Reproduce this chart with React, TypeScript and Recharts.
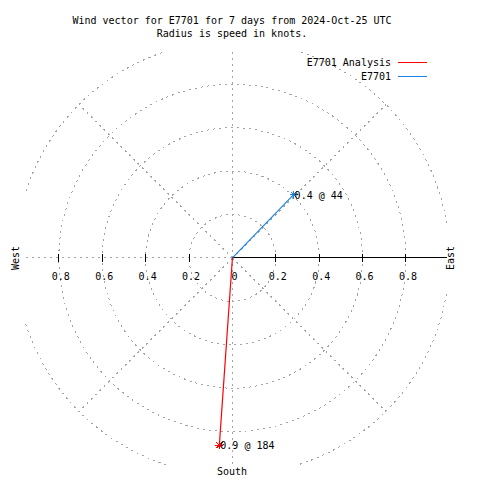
import React from "react";
import {
    ScatterChart,
    Scatter,
    XAxis,
    YAxis,
    ReferenceArea,
    ReferenceLine,
    ReferenceDot,
} from "recharts";

// series: wind speed (knots) and direction (degrees, clockwise from north)
const seriesNames = ["E7701 Analysis", "E7701"];
const speeds = [0.865, 0.406];
const directions = [184, 44];
const seriesColors = ["#ff0000", "#1e82e6"];

// polar grid
const ringRadii = [0.2, 0.4, 0.6, 0.8, 1.0];
const spokeAngles = [0, 45, 135, 180, 225, 270, 315];
const tickValues = [-0.8, -0.6, -0.4, -0.2, 0, 0.2, 0.4, 0.6, 0.8];

const titleLines = [
    "Wind vector for E7701 for 7 days from 2024-Oct-25 UTC",
    "Radius is speed in knots.",
];

const FONT = "'DejaVu Sans Mono', monospace";
const GRID = "#a4a4a4";
const DASH = "2 4";

const rad = (deg: number) => (deg * Math.PI) / 180;

const vectors = seriesNames.map((name, i) => ({
    name,
    color: seriesColors[i],
    label: `${speeds[i].toFixed(1)} @ ${directions[i]}`,
    data: [
        { x: 0, y: 0, end: false },
        {
            x: speeds[i] * Math.sin(rad(directions[i])),
            y: speeds[i] * Math.cos(rad(directions[i])),
            end: true,
        },
    ],
}));

const ringShape = (props: any) => {
    const { x, y, width, height, clipPath } = props;
    return (
        <ellipse
            cx={x + width / 2}
            cy={y + height / 2}
            rx={width / 2}
            ry={height / 2}
            fill="none"
            stroke={GRID}
            strokeDasharray={DASH}
            shapeRendering="crispEdges"
            clipPath={clipPath}
        />
    );
};

const tickShape = (value: number) => (props: any) => {
    const { cx, cy } = props;
    return (
        <g>
            {value !== 0 && (
                <line x1={cx} x2={cx} y1={cy - 4} y2={cy + 4} stroke="#000" shapeRendering="crispEdges" />
            )}
            <text x={cx + 2} y={cy + 22} textAnchor="middle" fontFamily={FONT} fontSize={10} fill="#000">
                {value === 0 ? "0" : Math.abs(value).toFixed(1)}
            </text>
        </g>
    );
};

const starShape = (color: string, label: string) => (props: any) => {
    const { cx, cy, payload } = props;
    if (!payload || !payload.end) return <g />;
    const s = 4;
    const d = 3;
    return (
        <g>
            <path
                d={`M${cx - s},${cy}H${cx + s}M${cx},${cy - s}V${cy + s}M${cx - d},${cy - d}L${cx + d},${cy + d}M${cx - d},${cy + d}L${cx + d},${cy - d}`}
                stroke={color}
                strokeWidth={1}
                fill="none"
                shapeRendering="crispEdges"
            />
            <text x={cx + 1} y={cy + 4} fontFamily={FONT} fontSize={10} fill="#000">
                {label}
            </text>
        </g>
    );
};

export default function App() {
    return (
        <div style={{ position: "absolute", left: 0, top: 0, width: 480, height: 480, background: "#fff" }}>
            <ScatterChart width={480} height={480} margin={{ top: 52, right: 33, bottom: 15, left: 25 }}>
                <XAxis type="number" dataKey="x" domain={[-0.956, 0.989]} allowDataOverflow hide />
                <YAxis type="number" dataKey="y" domain={[-0.954, 0.949]} allowDataOverflow hide />
                {ringRadii.map((r) => (
                    <ReferenceArea
                        key={`ring-${r}`}
                        x1={-r}
                        x2={r}
                        y1={-r}
                        y2={r}
                        ifOverflow="hidden"
                        shape={ringShape}
                    />
                ))}
                {spokeAngles.map((a) => (
                    <ReferenceLine
                        key={`spoke-${a}`}
                        segment={[
                            { x: 0, y: 0 },
                            { x: Math.sin(rad(a)), y: Math.cos(rad(a)) },
                        ]}
                        ifOverflow="hidden"
                        stroke={GRID}
                        strokeDasharray={DASH}
                        shapeRendering="crispEdges"
                    />
                ))}
                <ReferenceLine
                    segment={[
                        { x: 0, y: 0 },
                        { x: 1, y: 0 },
                    ]}
                    ifOverflow="hidden"
                    stroke="#000"
                    strokeWidth={1}
                    shapeRendering="crispEdges"
                />
                {tickValues.map((t) => (
                    <ReferenceDot key={`tick-${t}`} x={t} y={0} shape={tickShape(t)} />
                ))}
                {vectors.map((v) => (
                    <Scatter
                        key={v.name}
                        name={v.name}
                        data={v.data}
                        line={{ stroke: v.color, strokeWidth: 1.2 }}
                        shape={starShape(v.color, v.label)}
                        isAnimationActive={false}
                    />
                ))}
            </ScatterChart>
            <svg
                width={480}
                height={480}
                style={{ position: "absolute", left: 0, top: 0, pointerEvents: "none" }}
                fontFamily={FONT}
                fontSize={10}
            >
                {titleLines.map((t, i) => (
                    <text key={t} x={232} y={24 + i * 13} textAnchor="middle" fill="#000">
                        {t}
                    </text>
                ))}
                {seriesNames.map((n, i) => (
                    <g key={n}>
                        <text x={391} y={66 + i * 13.5} textAnchor="end" fill="#000">
                            {n}
                        </text>
                        <line
                            x1={398}
                            x2={427}
                            y1={62.5 + i * 13.5}
                            y2={62.5 + i * 13.5}
                            stroke={seriesColors[i]}
                            shapeRendering="crispEdges"
                        />
                    </g>
                ))}
                <text x={18.5} y={258} transform="rotate(-90 18.5 258)" textAnchor="middle" fill="#000">
                    West
                </text>
                <text x={453.5} y={258} transform="rotate(-90 453.5 258)" textAnchor="middle" fill="#000">
                    East
                </text>
                <text x={232} y={475} textAnchor="middle" fill="#000">
                    South
                </text>
            </svg>
        </div>
    );
}
